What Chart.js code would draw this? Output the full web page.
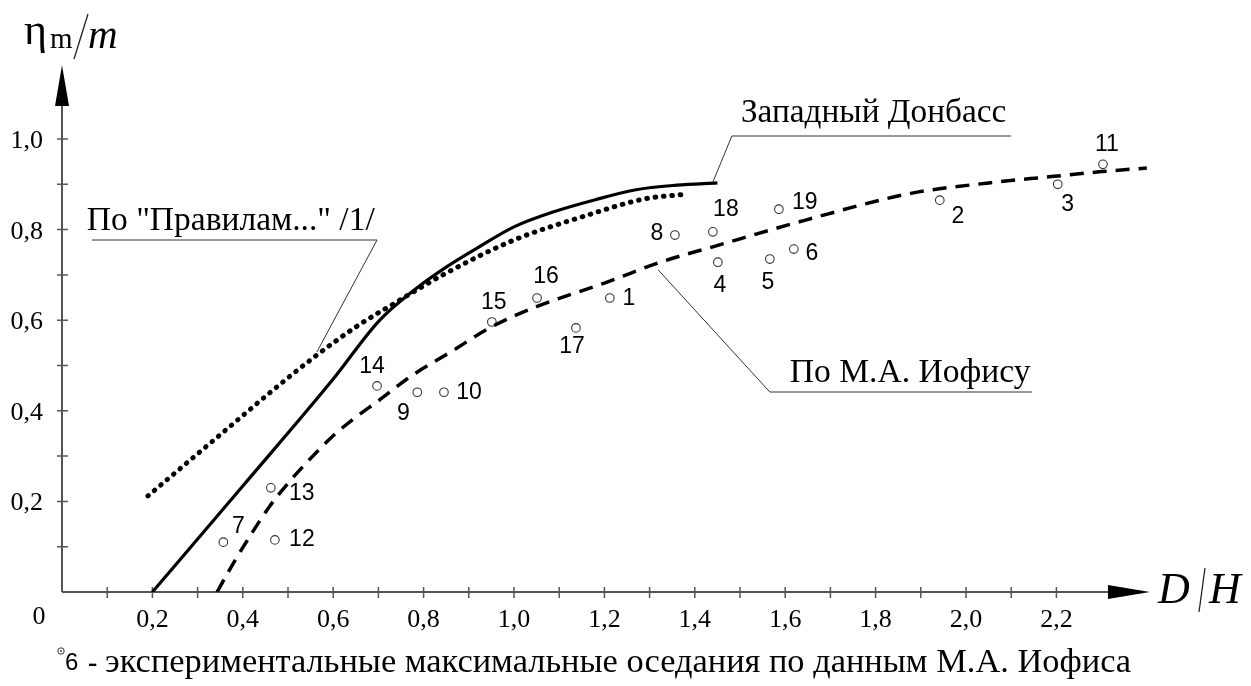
<!DOCTYPE html>
<html>
<head>
<meta charset="utf-8">
<script src="https://cdn.jsdelivr.net/npm/chart.js@4.4.1/dist/chart.umd.min.js"></script>
<style>
  html, body { margin: 0; padding: 0; background: #fff; }
  canvas { display: block; }
</style>
</head>
<body>
<canvas id="chart" width="1251" height="686"></canvas>
<script>
// Западный Донбасс (сплошная)
const donbassX = [0.2, 0.4, 0.6, 0.7, 0.78, 0.85, 0.92, 1.0, 1.09, 1.18, 1.27, 1.36, 1.45];
const donbassY = [0.0, 0.234, 0.47, 0.597, 0.667, 0.717, 0.76, 0.806, 0.84, 0.866, 0.888, 0.898, 0.903];

// По "Правилам..." /1/ (точки)
const rulesX = [0.19, 0.3, 0.37, 0.46, 0.556, 0.65, 0.74, 0.85, 1.0, 1.15, 1.29, 1.38];
const rulesY = [0.212, 0.305, 0.364, 0.44, 0.517, 0.585, 0.64, 0.704, 0.777, 0.828, 0.868, 0.878];

// По М.А. Иофису (пунктир)
const iofisX = [0.343, 0.38, 0.42, 0.46, 0.5, 0.55, 0.6, 0.65, 0.7, 0.77, 0.86, 0.95, 1.05, 1.2, 1.33, 1.44, 1.645, 1.878, 2.05, 2.189, 2.3, 2.4];
const iofisY = [0.0, 0.065, 0.13, 0.19, 0.24, 0.295, 0.345, 0.386, 0.422, 0.475, 0.53, 0.585, 0.63, 0.682, 0.73, 0.762, 0.821, 0.88, 0.903, 0.917, 0.928, 0.936];

// экспериментальные оседания (номер, D/H, ηm/m)
const pointNo = [1, 2, 3, 4, 5, 6, 7, 8, 9, 10, 11, 12, 13, 14, 15, 16, 17, 18, 19];
const pointX = [1.212, 1.942, 2.203, 1.451, 1.566, 1.619, 0.357, 1.356, 0.786, 0.845, 2.303, 0.471, 0.462, 0.697, 0.951, 1.051, 1.137, 1.44, 1.586];
const pointY = [0.649, 0.865, 0.9, 0.728, 0.735, 0.757, 0.11, 0.788, 0.441, 0.441, 0.944, 0.115, 0.23, 0.455, 0.596, 0.649, 0.583, 0.795, 0.845];

// подписи осей
const xTicks = [0.2, 0.4, 0.6, 0.8, 1.0, 1.2, 1.4, 1.6, 1.8, 2.0, 2.2];
const yTicks = [0.2, 0.4, 0.6, 0.8, 1.0];

// смещение номеров точек, px
const labelDX = [19, 18, 10, 2, -2, 18, 15, -18, -14, 25, 4, 27, 31, -5, 2, 9, -4, 13, 26];
const labelDY = [-1, 15, 19, 22, 22, 3, -17, -3, 20, -1, -21, -2, 4, -21, -21, -23, 17, -24, -8];

// выноски: текст + ломаная в единицах графика
const notes = [
    { text: 'Западный Донбасс', tx: 1.502, ty: 1.0375, w: 265, path: [[1.44, 0.905], [1.482, 1.0066], [2.1, 1.0066]] },
    { text: 'По "Правилам..." /1/', tx: 0.055, ty: 0.799, w: 288, path: [[0.564, 0.53], [0.697, 0.777], [0.066, 0.777]] },
    { text: 'По М.А. Иофису', tx: 1.61, ty: 0.4636, w: 241, path: [[1.319, 0.711], [1.566, 0.4415], [2.146, 0.4415]] }
];

const toPair = (xs, ys) => xs.map((x, i) => ({ x, y: ys[i] }));
const points = toPair(pointX, pointY);

const SERIF = '"Liberation Serif", "Times New Roman", serif';
const SANS = '"Liberation Sans", Arial, sans-serif';

function fitSize(ctx, text, font, target) {
    ctx.font = '100px ' + font;
    return 100 * target / ctx.measureText(text).width;
}

const decor = {
    id: 'decor',
    beforeDatasetsDraw(chart) {
        const { ctx, scales: { x, y } } = chart;
        const x0 = x.getPixelForValue(0), y0 = y.getPixelForValue(0);
        ctx.save();
        ctx.strokeStyle = '#555';
        ctx.lineWidth = 2;
        ctx.beginPath();
        ctx.moveTo(x0, y0); ctx.lineTo(x.getPixelForValue(2.35), y0);
        ctx.moveTo(x0, y0); ctx.lineTo(x0, y.getPixelForValue(1.1));
        ctx.stroke();

        // засечки через 0.1
        ctx.lineWidth = 1.5;
        ctx.beginPath();
        for (let i = 1; i <= 22; i++) {
            const px = x.getPixelForValue(i / 10);
            ctx.moveTo(px, y0 - 5); ctx.lineTo(px, y0 + 6);
        }
        for (let i = 1; i <= 10; i++) {
            const py = y.getPixelForValue(i / 10);
            ctx.moveTo(x0 - 5, py); ctx.lineTo(x0 + 6, py);
        }
        ctx.stroke();

        // стрелки
        ctx.fillStyle = '#000';
        ctx.beginPath();
        ctx.moveTo(x.getPixelForValue(2.314), y0 - 7);
        ctx.lineTo(x.getPixelForValue(2.407), y0);
        ctx.lineTo(x.getPixelForValue(2.314), y0 + 7);
        ctx.closePath();
        ctx.fill();
        ctx.beginPath();
        ctx.moveTo(x0 - 7, y.getPixelForValue(1.073));
        ctx.lineTo(x0, y.getPixelForValue(1.163));
        ctx.lineTo(x0 + 7, y.getPixelForValue(1.073));
        ctx.closePath();
        ctx.fill();

        // подписи делений
        ctx.fillStyle = '#000';
        ctx.font = '26px ' + SERIF;
        ctx.textBaseline = 'alphabetic';
        ctx.textAlign = 'center';
        xTicks.forEach(v => ctx.fillText(v.toFixed(1).replace('.', ','), x.getPixelForValue(v), y0 + 35));
        ctx.fillText('0', x0 - 23, y0 + 32);
        ctx.textAlign = 'right';
        yTicks.forEach(v => ctx.fillText(v.toFixed(1).replace('.', ','), x0 - 19, y.getPixelForValue(v) + 9));

        // ηm/m
        ctx.textAlign = 'left';
        ctx.font = '44px ' + SERIF;
        ctx.fillText('η', 24, 44);
        ctx.font = '29px ' + SERIF;
        ctx.fillText('m', 50, 48);
        ctx.font = 'italic 41px ' + SERIF;
        ctx.fillText('m', 88, 48);
        ctx.strokeStyle = '#222';
        ctx.lineWidth = 1.3;
        ctx.beginPath();
        ctx.moveTo(74, 59); ctx.lineTo(88, 14);
        ctx.stroke();

        // D/H
        ctx.font = 'italic 44px ' + SERIF;
        ctx.fillText('D', 1158, 603);
        ctx.fillText('H', 1209, 603);
        ctx.beginPath();
        ctx.moveTo(1199, 612); ctx.lineTo(1205, 568);
        ctx.stroke();
        ctx.restore();
    },
    afterDatasetsDraw(chart) {
        const { ctx, scales: { x, y } } = chart;
        ctx.save();
        // номера точек
        ctx.fillStyle = '#000';
        ctx.font = '23px ' + SANS;
        ctx.textAlign = 'center';
        ctx.textBaseline = 'alphabetic';
        pointNo.forEach((n, i) => {
            ctx.fillText(String(n), x.getPixelForValue(pointX[i]) + labelDX[i], y.getPixelForValue(pointY[i]) + labelDY[i] + 8);
        });

        // выноски
        ctx.textAlign = 'left';
        ctx.strokeStyle = '#333';
        ctx.lineWidth = 1;
        notes.forEach(n => {
            ctx.beginPath();
            n.path.forEach(([px, py], i) => {
                const X = x.getPixelForValue(px), Y = y.getPixelForValue(py);
                if (i === 0) ctx.moveTo(X, Y); else ctx.lineTo(X, Y);
            });
            ctx.stroke();
            const size = fitSize(ctx, n.text, SERIF, n.w);
            ctx.font = size.toFixed(1) + 'px ' + SERIF;
            ctx.fillText(n.text, x.getPixelForValue(n.tx), y.getPixelForValue(n.ty));
        });

        // легенда внизу
        ctx.beginPath();
        ctx.arc(61, 651, 3.2, 0, Math.PI * 2);
        ctx.fillStyle = '#fff';
        ctx.fill();
        ctx.strokeStyle = '#333';
        ctx.stroke();
        ctx.beginPath();
        ctx.arc(61, 651, 0.9, 0, Math.PI * 2);
        ctx.fillStyle = '#333';
        ctx.fill();
        ctx.fillStyle = '#000';
        ctx.font = '24px ' + SANS;
        ctx.fillText('6', 65, 670);
        ctx.font = 'bold 28px ' + SERIF;
        ctx.fillText('-', 88, 671);
        const legendText = 'экспериментальные максимальные оседания по данным М.А. Иофиса';
        const ls = fitSize(ctx, legendText, SERIF, 1025);
        ctx.font = ls.toFixed(1) + 'px ' + SERIF;
        ctx.fillText(legendText, 105, 672);
        ctx.restore();
    }
};

new Chart(document.getElementById('chart'), {
    type: 'scatter',
    data: {
        datasets: [
            {
                label: 'Западный Донбасс',
                data: toPair(donbassX, donbassY),
                showLine: true,
                borderColor: '#000',
                borderWidth: 3.2,
                pointRadius: 0,
                cubicInterpolationMode: 'monotone'
            },
            {
                label: 'По "Правилам..." /1/',
                data: toPair(rulesX, rulesY),
                showLine: true,
                borderColor: '#000',
                borderWidth: 5,
                borderDash: [0.6, 7.8],
                borderCapStyle: 'round',
                pointRadius: 0,
                cubicInterpolationMode: 'monotone'
            },
            {
                label: 'По М.А. Иофису',
                data: toPair(iofisX, iofisY),
                showLine: true,
                borderColor: '#000',
                borderWidth: 3.5,
                borderDash: [14, 9],
                pointRadius: 0,
                cubicInterpolationMode: 'monotone'
            },
            {
                label: 'экспериментальные максимальные оседания',
                data: points,
                showLine: false,
                pointRadius: 4.3,
                pointBackgroundColor: '#fff',
                pointBorderColor: '#333',
                pointBorderWidth: 1.1
            },
            {
                label: 'centres',
                data: points,
                showLine: false,
                pointRadius: 1,
                pointBackgroundColor: '#333',
                pointBorderWidth: 0
            }
        ]
    },
    options: {
        responsive: false,
        animation: false,
        events: [],
        layout: { padding: { left: 62, right: 13.8, top: 25.75, bottom: 94 } },
        scales: {
            x: { type: 'linear', min: 0, max: 2.6, display: false },
            y: { type: 'linear', min: 0, max: 1.25, display: false }
        },
        plugins: {
            legend: { display: false },
            tooltip: { enabled: false }
        }
    },
    plugins: [decor]
});
</script>
</body>
</html>
